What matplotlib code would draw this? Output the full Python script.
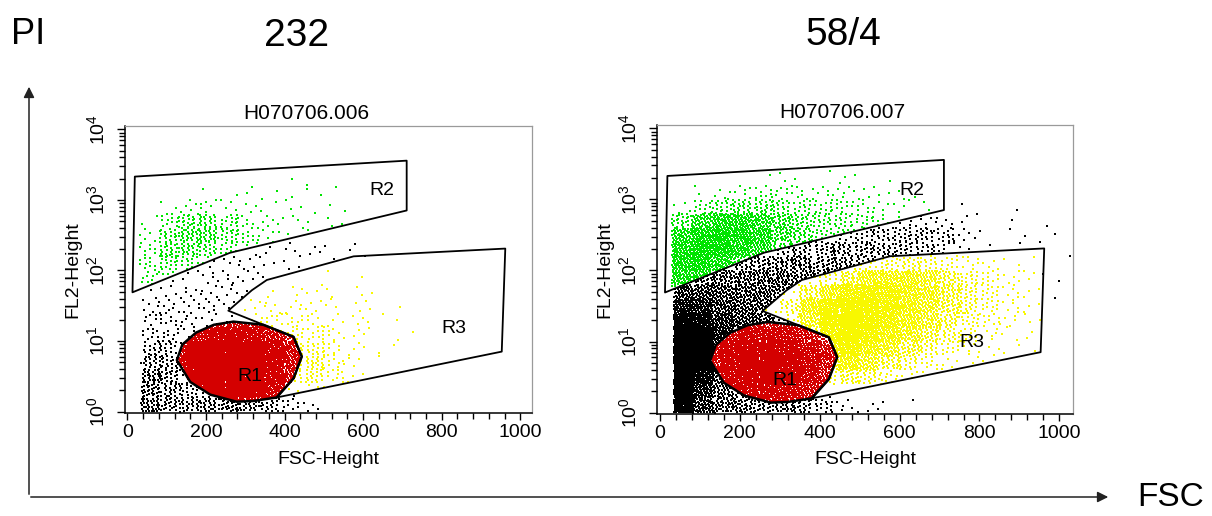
import numpy as np
import matplotlib
matplotlib.use("Agg")
import matplotlib.pyplot as plt
from matplotlib.path import Path
from matplotlib.patches import Polygon
from matplotlib.ticker import MultipleLocator, LogLocator, NullFormatter

plt.rcParams['font.family'] = ['Liberation Sans', 'DejaVu Sans']

# ---- gates, (FSC, log10 FL2) ----
R1_GATE = [(126, 0.73), (140, 0.95), (175, 1.12), (220, 1.23), (270, 1.275),
           (346, 1.23), (423, 1.06), (444, 0.78), (423, 0.47), (380, 0.20),
           (321, 0.15), (278, 0.14), (211, 0.24), (160, 0.42)]
R2_GATE = [(19, 3.33), (711, 3.556), (711, 2.85), (261, 2.25), (13, 1.69)]
R3_GATE = [(257, 1.43), (423, 1.06), (444, 0.78), (423, 0.47), (380, 0.20),
           (953, 0.85), (962, 2.31), (576, 2.20), (355, 1.865), (317, 1.72)]

titles = ["232", "58/4"]
files = ["H070706.006", "H070706.007"]
gate_labels_left = {"R1": (312, 0.50), "R2": (648, 3.14), "R3": (830, 1.18)}
gate_labels_right = {"R1": (313, 0.45), "R2": (630, 3.12), "R3": (780, 0.99)}

# ---- event density, dots per cell (50 FSC x 0.2 decade), rows top -> bottom ----
# left panel (232)
left_green_origin = (30, 1.6)
left_green = [
    [0, 0, 0, 0, 0, 0, 0, 1, 1, 0, 0],
    [0, 0, 0, 1, 1, 2, 1, 2, 1, 1, 1],
    [0, 2, 5, 6, 4, 3, 2, 2, 2, 1, 1],
    [2, 12, 22, 22, 14, 8, 5, 3, 3, 2, 1],
    [5, 20, 30, 28, 18, 10, 6, 4, 3, 2, 1],
    [8, 22, 25, 20, 12, 6, 3, 2, 1, 0, 0],
    [10, 18, 14, 8, 3, 0, 0, 0, 0, 0, 0],
    [10, 10, 4, 1, 0, 0, 0, 0, 0, 0, 0],
    [4, 2, 0, 0, 0, 0, 0, 0, 0, 0, 0],
]
left_black_origin = (35, 0.0)
left_black = [
    [0, 0, 0, 0, 1, 2, 3, 3, 3, 2, 2, 1],
    [0, 0, 0, 2, 4, 4, 3, 2, 1, 1, 1, 0],
    [0, 1, 3, 5, 5, 4, 2, 0, 0, 0, 0, 0],
    [2, 4, 5, 6, 5, 3, 0, 0, 0, 0, 0, 0],
    [6, 6, 6, 6, 4, 2, 0, 0, 0, 0, 0, 0],
    [8, 8, 7, 5, 2, 0, 0, 0, 0, 0, 0, 0],
    [10, 10, 6, 3, 1, 0, 0, 0, 0, 0, 0, 0],
    [15, 14, 5, 0, 0, 0, 0, 0, 0, 0, 0, 0],
    [24, 20, 6, 0, 0, 0, 0, 0, 0, 0, 0, 0],
    [32, 24, 10, 3, 0, 0, 0, 0, 0, 0, 0, 0],
    [32, 24, 16, 12, 8, 6, 8, 6, 0, 0, 0, 0],
    [36, 28, 24, 28, 32, 28, 20, 10, 3, 1, 0, 0],
]
left_red_origin = (100, 0.0)
left_red = [
    [0, 60, 80, 80, 70, 40, 0],
    [60, 110, 130, 130, 120, 90, 50],
    [100, 150, 160, 160, 150, 130, 90],
    [110, 160, 170, 170, 160, 140, 90],
    [100, 160, 170, 170, 160, 130, 80],
    [60, 140, 160, 160, 150, 110, 60],
    [0, 60, 110, 120, 100, 60, 0],
]
left_yellow_origin = (250, 0.2)
left_yellow = [
    [0, 0, 0, 0, 0, 1, 1, 0, 0, 0, 0, 0],
    [0, 1, 2, 3, 3, 2, 2, 1, 0, 0, 0, 0],
    [1, 4, 5, 5, 4, 3, 2, 2, 1, 0, 0, 0],
    [2, 6, 8, 8, 6, 4, 3, 2, 1, 0, 0, 1],
    [0, 4, 10, 12, 10, 6, 3, 2, 1, 1, 0, 0],
    [0, 0, 6, 18, 16, 8, 3, 2, 1, 0, 0, 0],
    [0, 0, 2, 22, 22, 10, 4, 1, 0, 0, 0, 0],
    [0, 0, 0, 16, 18, 10, 3, 1, 0, 0, 0, 0],
    [0, 0, 0, 3, 6, 4, 1, 0, 0, 0, 0, 0],
]

# right panel (58/4)
right_green_origin = (30, 1.6)
right_green = [
    [0, 0, 0, 0, 0, 0, 0, 0, 0, 0, 0, 0, 0, 0],
    [0, 0, 0, 0, 1, 2, 1, 1, 2, 1, 1, 0, 0, 0],
    [0, 2, 4, 6, 8, 8, 6, 6, 5, 4, 3, 2, 1, 0],
    [4, 12, 20, 24, 22, 18, 14, 12, 10, 8, 5, 4, 2, 0],
    [25, 50, 70, 70, 55, 35, 25, 18, 15, 12, 8, 5, 2, 0],
    [60, 90, 100, 90, 65, 40, 25, 18, 14, 10, 6, 4, 2, 0],
    [80, 100, 100, 75, 50, 28, 15, 10, 6, 4, 2, 0, 0, 0],
    [80, 90, 70, 40, 20, 8, 3, 0, 0, 0, 0, 0, 0, 0],
    [70, 60, 25, 6, 0, 0, 0, 0, 0, 0, 0, 0, 0, 0],
    [30, 10, 0, 0, 0, 0, 0, 0, 0, 0, 0, 0, 0, 0],
]
right_black_origin = (35, 0.0)
right_black = [
    [0, 0, 0, 0, 0, 0, 0, 0, 0, 0, 0, 0, 0, 0, 1, 0, 0, 1, 0, 0],
    [0, 0, 0, 0, 0, 0, 0, 0, 0, 0, 0, 5, 6, 6, 2, 1, 1, 0, 1, 0],
    [0, 0, 0, 0, 0, 0, 0, 0, 10, 14, 16, 18, 18, 14, 5, 2, 1, 1, 1, 1],
    [0, 0, 0, 0, 0, 14, 20, 22, 24, 25, 22, 20, 16, 10, 4, 2, 1, 1, 1, 1],
    [0, 0, 12, 25, 30, 32, 32, 30, 28, 20, 12, 8, 6, 3, 2, 1, 1, 1, 0, 0],
    [10, 30, 40, 42, 42, 40, 35, 25, 15, 8, 3, 2, 1, 1, 0, 0, 0, 1, 1, 1],
    [60, 60, 50, 48, 45, 40, 25, 10, 3, 1, 0, 0, 0, 0, 0, 0, 0, 0, 0, 1],
    [100, 90, 60, 50, 45, 30, 0, 0, 0, 0, 0, 0, 0, 0, 0, 0, 0, 0, 0, 0],
    [140, 130, 80, 55, 45, 20, 0, 0, 0, 0, 0, 0, 0, 0, 0, 0, 0, 0, 0, 0],
    [170, 160, 90, 40, 25, 10, 0, 0, 0, 0, 0, 0, 0, 0, 0, 0, 0, 0, 0, 0],
    [180, 170, 80, 20, 0, 0, 0, 0, 0, 0, 0, 0, 0, 0, 0, 0, 0, 0, 0, 0],
    [180, 160, 60, 20, 0, 0, 0, 0, 0, 0, 0, 0, 0, 0, 0, 0, 0, 0, 0, 0],
    [170, 120, 45, 20, 10, 0, 0, 0, 0, 0, 0, 0, 0, 0, 0, 0, 0, 0, 0, 0],
    [160, 80, 40, 30, 25, 20, 15, 8, 0, 0, 0, 0, 0, 0, 0, 0, 0, 0, 0, 0],
    [150, 70, 40, 35, 30, 30, 25, 15, 5, 3, 2, 1, 0, 0, 0, 0, 0, 0, 0, 0],
]
right_red_origin = (100, 0.0)
right_red = [
    [0, 50, 70, 70, 60, 35, 0],
    [50, 100, 120, 120, 110, 80, 40],
    [90, 130, 140, 140, 130, 110, 80],
    [90, 130, 150, 150, 140, 120, 80],
    [80, 120, 140, 150, 140, 110, 70],
    [50, 100, 120, 130, 120, 90, 50],
    [0, 50, 90, 100, 90, 50, 0],
]
right_yellow_origin = (250, 0.2)
right_yellow = [
    [0, 0, 0, 0, 0, 0, 0, 0, 0, 0, 0, 0, 0, 0, 0],
    [0, 0, 0, 0, 6, 12, 18, 20, 16, 12, 8, 4, 2, 1, 0],
    [0, 0, 5, 15, 35, 60, 70, 65, 45, 30, 18, 10, 5, 3, 1],
    [0, 4, 30, 60, 100, 110, 100, 80, 55, 35, 20, 12, 6, 3, 1],
    [3, 20, 70, 120, 140, 130, 110, 80, 55, 35, 20, 12, 6, 3, 1],
    [0, 10, 50, 130, 150, 130, 100, 70, 45, 28, 16, 10, 5, 2, 1],
    [0, 0, 20, 110, 140, 110, 80, 55, 35, 20, 12, 6, 3, 2, 1],
    [0, 0, 0, 90, 120, 80, 55, 35, 20, 12, 6, 3, 2, 1, 0],
    [0, 0, 0, 60, 80, 50, 30, 18, 10, 5, 3, 2, 1, 0, 0],
    [0, 0, 0, 15, 30, 20, 12, 6, 3, 2, 1, 0, 0, 0, 0],
    [0, 0, 0, 0, 2, 3, 2, 1, 0, 0, 0, 0, 0, 0, 0],
]

RED = '#d40000'
GREEN = '#00e400'
YELLOW = '#f8f800'

# spread the dots of each cell evenly (R2 low-discrepancy jitter)
G = 1.32471795724474602596
A1, A2 = 1 / G, 1 / G ** 2


def cell_dots(counts, origin, start, dx=50, dy=0.2):
    x0, y0 = origin
    xs, ys = [], []
    k = start
    for i, row in enumerate(counts[::-1]):
        for j, n in enumerate(row):
            for _ in range(n):
                k += 1
                xs.append(x0 + (j + (0.5 + k * A1) % 1) * dx)
                ys.append(y0 + (i + (0.5 + k * A2) % 1) * dy)
    return np.column_stack([xs, ys])


paths = {name: Path(g) for name, g in
         [("R1", R1_GATE), ("R2", R2_GATE), ("R3", R3_GATE)]}


def draw_panel(ax, black, green, red, yellow, labels, fname, xlim, title_x):
    pb = cell_dots(black[0], black[1], 0)
    outside = ~(paths["R1"].contains_points(pb) | paths["R2"].contains_points(pb)
                | paths["R3"].contains_points(pb))
    pb = pb[outside]
    ax.scatter(pb[:, 0], 10 ** pb[:, 1], s=2.4, marker='s', c='black', linewidths=0)
    for (cnt, org), gate, col, st in [(green, "R2", GREEN, 7919),
                                      (red, "R1", RED, 15401),
                                      (yellow, "R3", YELLOW, 27103)]:
        p = cell_dots(cnt, org, st)
        p = p[paths[gate].contains_points(p)]
        ax.scatter(p[:, 0], 10 ** p[:, 1], s=2.4, marker='s', c=col, linewidths=0)
    for g, lw in [(R2_GATE, 1.3), (R3_GATE, 1.3), (R1_GATE, 1.8)]:
        v = [(x, 10 ** y) for x, y in g]
        ax.add_patch(Polygon(v, closed=True, fill=False, edgecolor='black',
                             linewidth=lw, joinstyle='round', zorder=5))
    for name, (x, y) in labels.items():
        ax.text(x, 10 ** y, name, fontsize=14, ha='center', va='center', zorder=6)

    ax.set_yscale('log')
    ax.set_xlim(*xlim)
    ax.set_ylim(10 ** -0.02, 10 ** 4.047)
    ax.set_xticks([0, 200, 400, 600, 800, 1000])
    ax.xaxis.set_minor_locator(MultipleLocator(40))
    ax.yaxis.set_major_locator(LogLocator(base=10, numticks=10))
    ax.yaxis.set_minor_locator(LogLocator(base=10, subs=np.arange(2, 10), numticks=10))
    ax.yaxis.set_minor_formatter(NullFormatter())
    ax.tick_params(axis='both', which='both', direction='out', labelsize=14, width=1)
    ax.tick_params(axis='x', which='major', length=5, pad=3)
    ax.tick_params(axis='x', which='minor', length=4)
    ax.tick_params(axis='y', which='major', length=6, pad=6)
    ax.tick_params(axis='y', which='minor', length=4)
    for lab in ax.get_yticklabels():
        lab.set_rotation(90)
        lab.set_va('center')
    for s in ['top', 'right']:
        ax.spines[s].set_color('#9a9a9a')
        ax.spines[s].set_linewidth(0.9)
    for s in ['left', 'bottom']:
        ax.spines[s].set_linewidth(1.1)
    ax.set_xlabel('FSC-Height', fontsize=14)
    ax.set_ylabel('FL2-Height', fontsize=14)
    ax.set_title(fname, fontsize=15, pad=5, x=title_x)


fig = plt.figure(figsize=(12.12, 5.16), dpi=100)
ax_l = fig.add_axes([125 / 1212, 1 - 413 / 516, 407 / 1212, 287 / 516])
ax_r = fig.add_axes([657 / 1212, 1 - 414 / 516, 416 / 1212, 289 / 516])

draw_panel(ax_l, (left_black, left_black_origin), (left_green, left_green_origin),
           (left_red, left_red_origin), (left_yellow, left_yellow_origin),
           gate_labels_left, files[0], (-6, 1030), (306 - 125) / 407)
draw_panel(ax_r, (right_black, right_black_origin), (right_green, right_green_origin),
           (right_red, right_red_origin), (right_yellow, right_yellow_origin),
           gate_labels_right, files[1], (-7, 1034), (842 - 657) / 416)

ax_l.xaxis.set_label_coords(0.5, -(451 - 413) / 287)
ax_l.yaxis.set_label_coords(-(125 - 81) / 407, 0.5)
ax_r.xaxis.set_label_coords(0.5, -(451 - 414) / 289)
ax_r.yaxis.set_label_coords(-(657 - 613) / 416, 0.5)

# outer frame: PI / FSC arrows and sample names
ov = fig.add_axes([0, 0, 1, 1], zorder=-1)
ov.set_xlim(0, 1212)
ov.set_ylim(516, 0)
ov.axis('off')
ov.annotate('', xy=(29, 84), xytext=(29, 497),
            arrowprops=dict(arrowstyle='-|>', color='#222222', lw=1.1, mutation_scale=16))
ov.annotate('', xy=(1111, 497), xytext=(28, 497),
            arrowprops=dict(arrowstyle='-|>', color='#222222', lw=1.1, mutation_scale=16))
ov.text(11, 35, 'PI', fontsize=26, ha='left', va='center')
ov.text(1171, 498, 'FSC', fontsize=24, ha='center', va='center')
ov.text(297, 36, titles[0], fontsize=28, ha='center', va='center')
ov.text(843, 35, titles[1], fontsize=28, ha='center', va='center')

fig.savefig('out.png', dpi=100, facecolor='white')
